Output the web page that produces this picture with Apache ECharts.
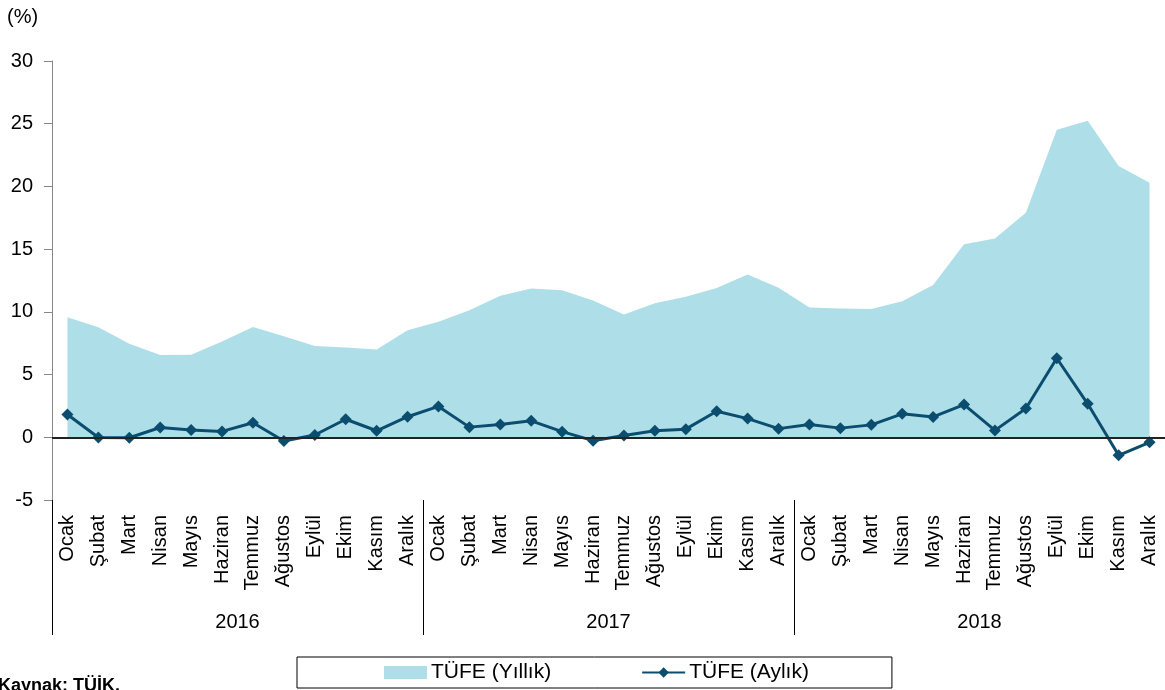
<!DOCTYPE html>
<html>
<head>
<meta charset="utf-8">
<script src="https://cdn.jsdelivr.net/npm/echarts@6/dist/echarts.min.js"></script>
<style>
  html, body { margin: 0; padding: 0; background: #fff; }
  #chart { width: 1165px; height: 690px; }
</style>
</head>
<body>
<div id="chart"></div>
<script>
const months = ['Ocak', 'Şubat', 'Mart', 'Nisan', 'Mayıs', 'Haziran', 'Temmuz', 'Ağustos', 'Eylül', 'Ekim', 'Kasım', 'Aralık'];
const years = ['2016', '2017', '2018'];
const categories = years.flatMap(() => months);

// TÜFE yıllık değişim (%)
const yearly = [
  9.58, 8.78, 7.46, 6.57, 6.58, 7.64, 8.79, 8.05, 7.28, 7.16, 7.00, 8.53,
  9.22, 10.13, 11.29, 11.87, 11.72, 10.90, 9.79, 10.68, 11.20, 11.90, 12.98, 11.92,
  10.35, 10.26, 10.23, 10.85, 12.15, 15.39, 15.85, 17.90, 24.52, 25.24, 21.62, 20.30
];
// TÜFE aylık değişim (%)
const monthly = [
  1.82, -0.02, -0.04, 0.78, 0.58, 0.47, 1.16, -0.29, 0.18, 1.44, 0.52, 1.64,
  2.46, 0.81, 1.02, 1.31, 0.45, -0.27, 0.15, 0.52, 0.65, 2.08, 1.49, 0.69,
  1.02, 0.73, 0.99, 1.87, 1.62, 2.61, 0.55, 2.30, 6.30, 2.67, -1.44, -0.40
];

const font = 'Liberation Sans, Arial, sans-serif';
const areaColor = '#AEDFE8';
const lineColor = '#0B4D6E';

const chart = echarts.init(document.getElementById('chart'));

chart.setOption({
  animation: false,
  backgroundColor: '#ffffff',
  textStyle: { fontFamily: font },
  grid: { left: 52, top: 61, width: 1114, height: 439 },
  graphic: [
    { type: 'text', left: 7, top: 7, style: { text: '(%)', font: '20px ' + font, fill: '#000' } },
    { type: 'text', left: -2, top: 677, style: { text: 'Kaynak: TÜİK.', font: 'bold 18px ' + font, fill: '#000' } }
  ],
  legend: {
    left: 297,
    top: 657,
    padding: [5, 83, 5, 87],
    itemGap: 90,
    itemWidth: 43,
    itemHeight: 13,
    borderColor: '#000',
    borderWidth: 1,
    textStyle: { fontSize: 21, color: '#000', fontFamily: font, padding: [0, 0, 0, -1] },
    data: [
      { name: 'TÜFE (Yıllık)', icon: 'rect', itemStyle: { color: areaColor } },
      { name: 'TÜFE (Aylık)' }
    ]
  },
  xAxis: [
    {
      type: 'category',
      data: categories,
      position: 'bottom',
      axisLine: { show: false, onZero: false },
      axisTick: { show: false },
      axisLabel: { interval: 0, rotate: 90, margin: 15, fontSize: 20, color: '#000' }
    },
    {
      type: 'category',
      data: years,
      position: 'bottom',
      axisLine: { show: false, onZero: false },
      axisTick: { show: true, length: 135, lineStyle: { color: '#000', width: 1 } },
      axisLabel: { margin: 112, fontSize: 20, color: '#000' }
    }
  ],
  yAxis: {
    type: 'value',
    min: -5,
    max: 30,
    interval: 5,
    axisLine: { show: true, lineStyle: { color: '#888', width: 1 } },
    axisTick: { show: true, length: 8, lineStyle: { color: '#888' } },
    axisLabel: { fontSize: 20, color: '#000', margin: 19 },
    splitLine: { show: false }
  },
  series: [
    {
      name: 'TÜFE (Yıllık)',
      type: 'line',
      data: yearly,
      symbol: 'none',
      lineStyle: { width: 0 },
      itemStyle: { color: areaColor },
      areaStyle: { color: areaColor, opacity: 1 },
      markLine: {
        silent: true,
        symbol: 'none',
        label: { show: false },
        lineStyle: { color: '#222', width: 2, type: 'solid' },
        data: [{ yAxis: 0 }]
      }
    },
    {
      name: 'TÜFE (Aylık)',
      type: 'line',
      data: monthly,
      symbol: 'diamond',
      symbolSize: 12,
      lineStyle: { color: lineColor, width: 3 },
      itemStyle: { color: lineColor }
    }
  ]
});
</script>
</body>
</html>
